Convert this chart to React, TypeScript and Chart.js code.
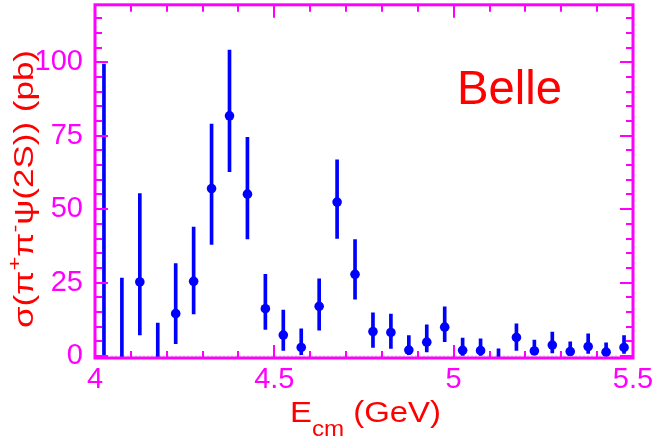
import React, { useEffect, useRef } from "react";
import { Chart, registerables } from "chart.js";

Chart.register(...registerables);

// ---- data ----
const energies = [
  4.025, 4.075, 4.125, 4.175, 4.225, 4.275, 4.325, 4.375, 4.425, 4.475,
  4.525, 4.575, 4.625, 4.675, 4.725, 4.775, 4.825, 4.875, 4.925, 4.975,
  5.025, 5.075, 5.125, 5.175, 5.225, 5.275, 5.325, 5.375, 5.425, 5.475,
];
const xsec: (number | null)[] = [
  null, null, 25.2, null, 14.4, 25.4, 57.0, 81.8, 55.1, 16.1,
  7.1, 2.9, 16.9, 52.4, 27.8, 8.3, 8.0, 2.0, 4.7, 9.8,
  1.9, 1.8, null, 6.3, 1.7, 3.7, 1.5, 3.2, 1.3, 2.9,
];
const errHigh = [
  99.4, 26.5, 55.3, 11.2, 31.5, 43.9, 79.0, 104.2, 74.5, 27.8,
  15.6, 9.2, 26.3, 66.8, 39.6, 14.7, 14.3, 6.9, 10.6, 16.7,
  6.1, 5.8, 2.4, 10.9, 5.4, 8.1, 4.8, 7.5, 4.5, 6.9,
];
const errLow = [
  -2, -2, 7.2, -2, 4.2, 14.3, 38.0, 62.8, 39.9, 9.0,
  1.9, 0.4, 8.8, 40.0, 19.3, 2.9, 2.6, 0.4, 1.4, 4.9,
  0.2, 0.2, -2, 1.9, 0.4, 1.0, 0.3, 0.9, 0.2, 0.9,
];
const xMajorTicks = [4, 4.5, 5, 5.5];
const xMinorStep = 0.1;
const yMajorTicks = [0, 25, 50, 75, 100];
const yMinorStep = 5;
const xRange = [4, 5.5];
const yRange = [-0.7, 119.6];

const MAGENTA = "#ff00ff";
const RED = "#ff0000";
const BLUE = "#0000ff";
const FONT = "'Liberation Sans', Arial, Helvetica, sans-serif";

type Run = { text: string; size: number; dy: number };

function drawRuns(
  ctx: CanvasRenderingContext2D,
  runs: Run[],
  targetWidth: number
) {
  let natural = 0;
  const widths: number[] = [];
  for (const r of runs) {
    ctx.font = `${r.size}px ${FONT}`;
    const w = ctx.measureText(r.text).width;
    widths.push(w);
    natural += w;
  }
  const sx = targetWidth / natural;
  ctx.save();
  ctx.scale(sx, 1);
  let cx = 0;
  runs.forEach((r, i) => {
    ctx.font = `${r.size}px ${FONT}`;
    ctx.fillText(r.text, cx, r.dy);
    cx += widths[i];
  });
  ctx.restore();
}

const framePlugin = {
  id: "frame",
  beforeDatasetsDraw(chart: any) {
    const { ctx, chartArea, scales } = chart;
    const y0 = scales.y.getPixelForValue(0);
    ctx.save();
    ctx.strokeStyle = "#88ff88";
    ctx.lineWidth = 1;
    ctx.setLineDash([2, 2]);
    ctx.beginPath();
    ctx.moveTo(chartArea.left, y0);
    ctx.lineTo(chartArea.right, y0);
    ctx.stroke();
    ctx.restore();
  },
  afterDatasetsDraw(chart: any) {
    const { ctx, chartArea, scales } = chart;
    const { left, right, top, bottom } = chartArea;
    ctx.save();
    ctx.strokeStyle = MAGENTA;
    ctx.lineWidth = 2;
    const major = 13;
    const minor = 7;
    const nx = Math.round((xRange[1] - xRange[0]) / xMinorStep);
    for (let i = 0; i <= nx; i++) {
      const v = xRange[0] + i * xMinorStep;
      const isMajor = xMajorTicks.some((m) => Math.abs(m - v) < 1e-6);
      const len = isMajor ? major : minor;
      const px = Math.round(scales.x.getPixelForValue(v));
      ctx.beginPath();
      ctx.moveTo(px, bottom);
      ctx.lineTo(px, bottom - len);
      ctx.moveTo(px, top);
      ctx.lineTo(px, top + len);
      ctx.stroke();
    }
    for (let v = 0; v <= yRange[1]; v += yMinorStep) {
      const isMajor = yMajorTicks.includes(v);
      const len = isMajor ? major : minor;
      const py = Math.round(scales.y.getPixelForValue(v));
      ctx.beginPath();
      ctx.moveTo(left, py);
      ctx.lineTo(left + len, py);
      ctx.moveTo(right, py);
      ctx.lineTo(right - len, py);
      ctx.stroke();
    }
    ctx.lineWidth = 3;
    ctx.strokeRect(left, top, right - left, bottom - top);
    ctx.restore();

    // titles
    ctx.save();
    ctx.fillStyle = RED;
    ctx.textBaseline = "alphabetic";
    // x title
    ctx.save();
    ctx.translate(290, 422);
    drawRuns(
      ctx,
      [
        { text: "E", size: 30, dy: 0 },
        { text: "cm", size: 22, dy: 14 },
        { text: " (GeV)", size: 30, dy: 0 },
      ],
      151
    );
    ctx.restore();
    // y title
    ctx.save();
    ctx.translate(33, 328);
    ctx.rotate(-Math.PI / 2);
    drawRuns(
      ctx,
      [
        { text: "σ(π", size: 28, dy: 0 },
        { text: "+", size: 19, dy: -12 },
        { text: "π", size: 28, dy: 0 },
        { text: "-", size: 19, dy: -12 },
        { text: "ψ(2S)) (pb)", size: 28, dy: 0 },
      ],
      278
    );
    ctx.restore();
    // Belle label
    ctx.save();
    ctx.translate(457, 104);
    drawRuns(ctx, [{ text: "Belle", size: 48, dy: 0 }], 105);
    ctx.restore();
    ctx.restore();
  },
};

const zeroPadding = (s: any) => {
  s.paddingTop = 0;
  s.paddingBottom = 0;
  s.paddingLeft = 0;
  s.paddingRight = 0;
};

export default function App() {
  const ref = useRef<HTMLCanvasElement | null>(null);

  useEffect(() => {
    document.body.style.margin = "0";
    const canvas = ref.current;
    if (!canvas) return;
    const points = energies
      .map((x, i) => ({ x, y: xsec[i] }))
      .filter((p) => p.y !== null);
    const bars = energies.map((x, i) => ({ x, y: [errLow[i], errHigh[i]] }));

    const chart = new Chart(canvas, {
      type: "scatter",
      data: {
        datasets: [
          {
            type: "bar",
            label: "errors",
            data: bars as any,
            backgroundColor: BLUE,
            borderWidth: 0,
            barThickness: 3,
            order: 2,
          } as any,
          {
            type: "scatter",
            label: "sigma",
            data: points as any,
            backgroundColor: BLUE,
            borderWidth: 0,
            pointRadius: 4.8,
            pointHoverRadius: 4.8,
            order: 1,
          },
        ],
      },
      options: {
        animation: false,
        responsive: false,
        devicePixelRatio: 1,
        layout: { padding: { top: 2, right: 21, left: 0, bottom: 0 } },
        plugins: {
          legend: { display: false },
          tooltip: { enabled: false },
        },
        events: [],
        scales: {
          x: {
            type: "linear",
            min: xRange[0],
            max: xRange[1],
            offset: false,
            grid: { display: false, drawTicks: false },
            border: { display: false },
            afterBuildTicks: (s: any) => {
              s.ticks = xMajorTicks.map((v) => ({ value: v }));
            },
            afterFit: (s: any) => {
              s.height = 79;
              zeroPadding(s);
            },
            ticks: {
              color: MAGENTA,
              font: { family: FONT, size: 29 },
              padding: 5,
              maxRotation: 0,
              autoSkip: false,
              callback: (v: any) => String(v),
            },
          },
          y: {
            type: "linear",
            min: yRange[0],
            max: yRange[1],
            grid: { display: false, drawTicks: false },
            border: { display: false },
            afterBuildTicks: (s: any) => {
              s.ticks = yMajorTicks.map((v) => ({ value: v }));
            },
            afterFit: (s: any) => {
              s.width = 95;
              zeroPadding(s);
            },
            ticks: {
              color: MAGENTA,
              font: { family: FONT, size: 29 },
              padding: 12,
              autoSkip: false,
              callback: (v: any) => String(v),
            },
          },
        },
      } as any,
      plugins: [framePlugin],
    });
    return () => chart.destroy();
  }, []);

  return (
    <canvas
      ref={ref}
      width={654}
      height={437}
      style={{ display: "block", width: 654, height: 437 }}
    />
  );
}
